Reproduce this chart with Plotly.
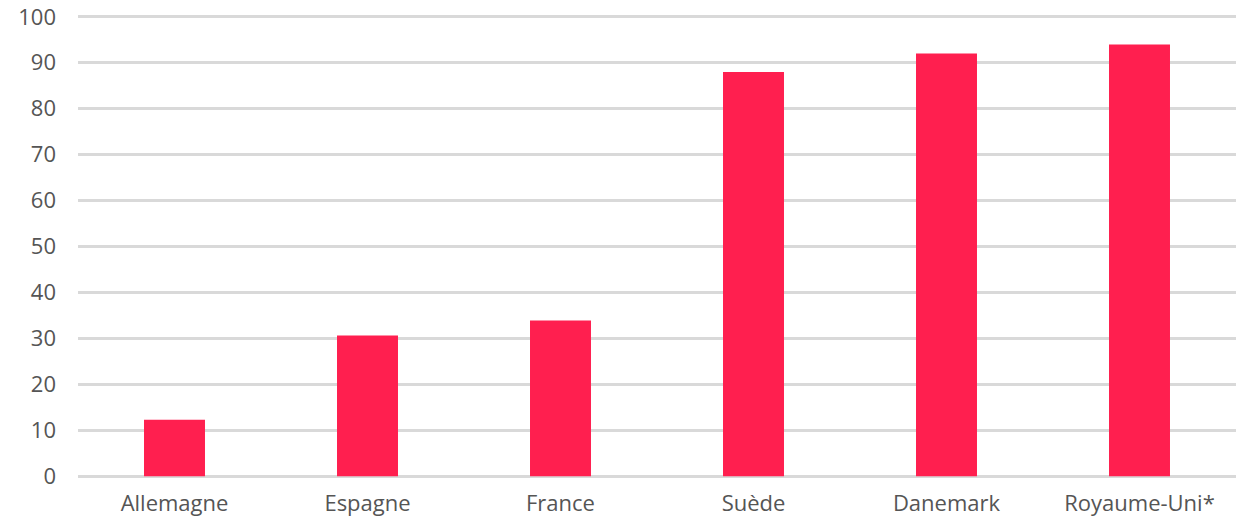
import plotly.graph_objects as go

categories = ["Allemagne", "Espagne", "France", "Suède", "Danemark", "Royaume-Uni*"]
values = [12.3, 30.6, 33.9, 88, 92, 94]
y_ticks = [0, 10, 20, 30, 40, 50, 60, 70, 80, 90, 100]

fig = go.Figure(
    go.Bar(
        x=categories,
        y=values,
        marker=dict(color="#FF1F4F", line=dict(width=0)),
    )
)

fig.update_layout(
    width=1248,
    height=516,
    margin=dict(l=78, r=12, t=15, b=38),
    plot_bgcolor="white",
    paper_bgcolor="white",
    bargap=0.684,
    showlegend=False,
    font=dict(family="Open Sans, Lato, sans-serif", size=22, color="#555555"),
)
fig.update_yaxes(
    range=[-0.4, 100.4],
    tickvals=y_ticks,
    showgrid=True,
    gridcolor="#D9D9D9",
    gridwidth=3,
    zeroline=False,
    showline=False,
    ticks="",
    automargin=False,
    ticklabeloverflow="allow",
    ticklabelstandoff=21,
    tickfont=dict(size=22, color="#555555"),
)
fig.update_xaxes(
    showgrid=False,
    showline=False,
    ticks="",
    automargin=False,
    ticklabelstandoff=10,
    tickfont=dict(size=22, color="#555555"),
)

fig.write_html(
    "out.html",
    config={"displayModeBar": False},
    post_script="document.body.style.margin='0';document.body.style.padding='0';",
)
